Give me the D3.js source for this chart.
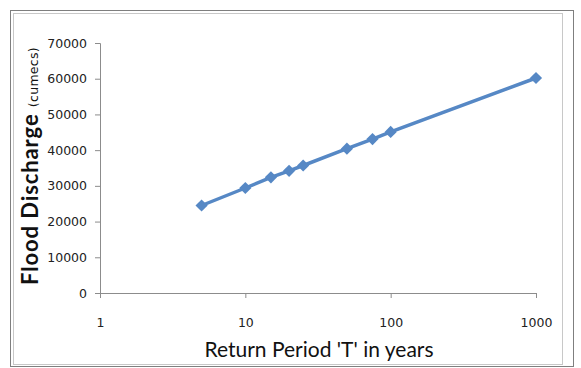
<!DOCTYPE html>
<html>
<head>
<meta charset="utf-8">
<script src="https://cdn.jsdelivr.net/npm/d3@7"></script>
<style>
  body { margin: 0; background: #fff; }
  svg { display: block; }
</style>
</head>
<body>
<div id="chart"></div>
<script>
var ctx = {
    w: 581,
    h: 368
};

// return periods (years) and flood discharge (cumecs)
var periods = [5, 10, 15, 20, 25, 50, 75, 100, 1000];
var discharge = [24500, 29400, 32400, 34200, 35700, 40400, 43100, 45100, 60200];
var xTicks = [1, 10, 100, 1000];
var yTicks = [0, 10000, 20000, 30000, 40000, 50000, 60000, 70000];

var margin = { left: 100, top: 43, right: 45, bottom: 75 };

var createChart = function (svg) {
    // frame
    svg.append("rect")
        .attr("x", 10.5).attr("y", 10.5)
        .attr("width", 563).attr("height", 356)
        .style("fill", "none").style("stroke", "#7f7f7f");
    svg.append("rect")
        .attr("x", 13.5).attr("y", 13.5)
        .attr("width", 549).attr("height", 351)
        .style("fill", "none").style("stroke", "#c8c8c8");

    var x = d3.scaleLog()
        .domain([1, 1000])
        .range([margin.left, ctx.w - margin.right]);
    var y = d3.scaleLinear()
        .domain([0, 70000])
        .range([ctx.h - margin.bottom, margin.top]);

    var xAxis = d3.axisBottom(x)
        .tickValues(xTicks)
        .tickFormat(d3.format("d"))
        .tickSize(5)
        .tickPadding(20);
    var yAxis = d3.axisLeft(y)
        .tickValues(yTicks)
        .tickFormat(d3.format("d"))
        .tickSize(5)
        .tickPadding(8);

    var gx = svg.append("g")
        .attr("transform", "translate(0," + y(0) + ")")
        .call(xAxis);
    var gy = svg.append("g")
        .attr("transform", "translate(" + x(1) + ",0)")
        .call(yAxis);

    [gx, gy].forEach(function (g) {
        g.selectAll("path, line").style("stroke", "#8c8c8c");
        g.selectAll("text")
            .style("font-family", "DejaVu Sans")
            .style("font-size", "12.5px")
            .style("fill", "#222");
    });

    var points = periods.map(function (p, i) {
        return { t: p, q: discharge[i] };
    });

    var line = d3.line()
        .x(function (d) { return x(d.t); })
        .y(function (d) { return y(d.q); });

    svg.append("path")
        .datum(points)
        .attr("d", line)
        .style("fill", "none")
        .style("stroke", "#5688c5")
        .style("stroke-width", 3.5);

    svg.selectAll(".marker")
        .data(points)
        .enter()
        .append("path")
        .attr("class", "marker")
        .attr("d", d3.symbol().type(d3.symbolDiamond2).size(95))
        .attr("transform", function (d) {
            return "translate(" + x(d.t) + "," + y(d.q) + ")";
        })
        .style("fill", "#5688c5");

    // axis titles
    svg.append("text")
        .attr("x", 319)
        .attr("y", 357)
        .attr("text-anchor", "middle")
        .style("font-family", "Lato")
        .style("font-size", "21px")
        .style("fill", "#111")
        .text("Return Period 'T' in years");

    var yl = svg.append("text")
        .attr("transform", "translate(38,166) rotate(-90)")
        .attr("text-anchor", "middle")
        .style("font-family", "Lato")
        .style("fill", "#111");
    yl.append("tspan")
        .style("font-size", "22px")
        .style("font-weight", "bold")
        .style("letter-spacing", "0.9px")
        .text("Flood Discharge ");
    yl.append("tspan")
        .style("font-family", "DejaVu Sans")
        .style("font-size", "12.5px")
        .style("letter-spacing", "0.3px")
        .text("(cumecs)");
};

var createViz = function () {
    var svg = d3.select("#chart").append("svg")
        .attr("width", ctx.w)
        .attr("height", ctx.h);
    createChart(svg);
};

createViz();
</script>
</body>
</html>
